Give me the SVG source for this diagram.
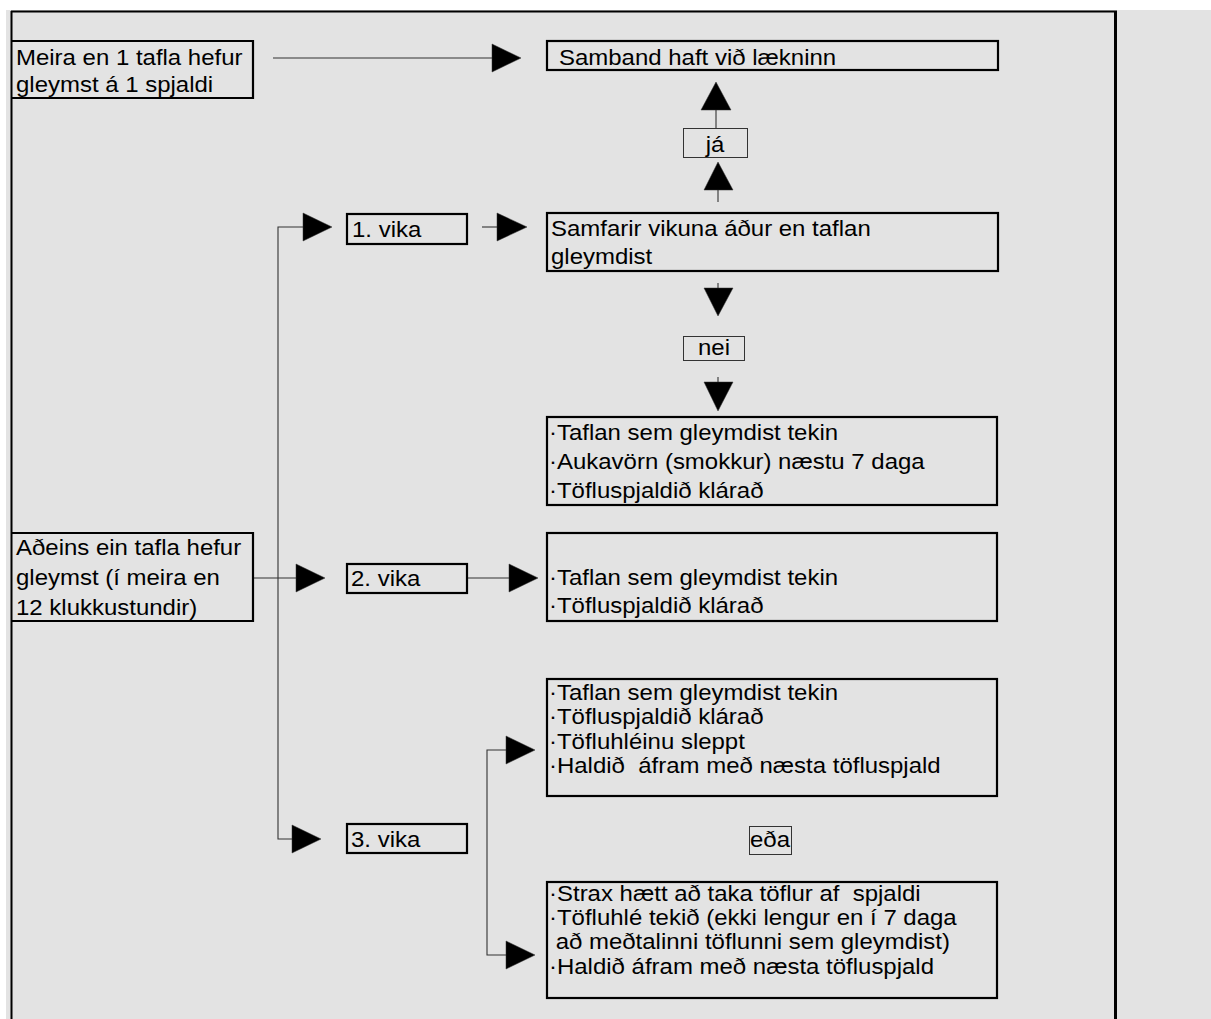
<svg xmlns="http://www.w3.org/2000/svg" width="1211" height="1019" viewBox="0 0 1211 1019">
<style>
.t{font-family:"Liberation Sans",Arial,sans-serif;font-size:22px;fill:#000;white-space:pre}
.box{fill:none;stroke:#000;stroke-width:2.2}
.lbl{fill:none;stroke:#333;stroke-width:1}
.ln{fill:none;stroke:#333;stroke-width:1.1}
.ah{fill:#000;stroke:#333;stroke-width:0.5}
</style>
<rect x="0" y="0" width="1211" height="1019" fill="#fff"/>
<rect x="6" y="10" width="1205" height="1009" fill="#e3e3e3"/>
<g id="frame">
<line x1="11" y1="11.5" x2="1117" y2="11.5" stroke="#000" stroke-width="2"/>
<line x1="11.5" y1="11" x2="11.5" y2="1019" stroke="#000" stroke-width="2"/>
<line x1="1115.5" y1="11" x2="1115.5" y2="1019" stroke="#000" stroke-width="3"/>
</g>
<g id="connectors">
<line class="ln" x1="273" y1="58" x2="493" y2="58"/>
<polygon class="ah" points="492,44 521,58 492,72"/>
<line class="ln" x1="716" y1="110" x2="716" y2="128"/>
<polygon class="ah" points="701,110 716,82 731,110"/>
<line class="ln" x1="718" y1="190" x2="718" y2="202"/>
<polygon class="ah" points="704,190 718,162 733,190"/>
<line class="ln" x1="718" y1="283" x2="718" y2="289"/>
<polygon class="ah" points="704,288 733,288 718,316"/>
<line class="ln" x1="718" y1="377" x2="718" y2="383"/>
<polygon class="ah" points="704,382 733,382 718,411"/>
<polyline class="ln" points="304,227 278,227 278,839 293,839"/>
<polygon class="ah" points="303,213 332,227 303,241"/>
<line class="ln" x1="482" y1="227" x2="498" y2="227"/>
<polygon class="ah" points="497,213 527,227 497,241"/>
<line class="ln" x1="253" y1="578" x2="297" y2="578"/>
<polygon class="ah" points="296,564 325,578 296,592"/>
<line class="ln" x1="467" y1="578" x2="510" y2="578"/>
<polygon class="ah" points="509,564 538,578 509,592"/>
<polygon class="ah" points="292,825 321,839 292,853"/>
<polyline class="ln" points="507,750 487,750 487,955 507,955"/>
<polygon class="ah" points="506,736 535,750 506,764"/>
<polygon class="ah" points="506,941 535,955 506,969"/>
</g>
<g id="n-meira">
<polyline class="box" points="12,41 253,41 253,98 12,98"/>
<text class="t" transform="translate(16,65) scale(1.09,1)">Meira en 1 tafla hefur</text>
<text class="t" transform="translate(16,92) scale(1.09,1)">gleymst á 1 spjaldi</text>
</g>
<g id="n-samband">
<rect class="box" x="547" y="41" width="451" height="29"/>
<text class="t" transform="translate(559,65) scale(1.09,1)">Samband haft við lækninn</text>
</g>
<g id="n-ja">
<rect class="lbl" x="683.5" y="128.5" width="64" height="29"/>
<text class="t" text-anchor="middle" transform="translate(715,152) scale(1.09,1)">já</text>
</g>
<g id="n-samfarir">
<rect class="box" x="547" y="213" width="451" height="58"/>
<text class="t" transform="translate(551,236) scale(1.09,1)">Samfarir vikuna áður en taflan</text>
<text class="t" transform="translate(551,264) scale(1.09,1)">gleymdist</text>
</g>
<g id="n-vika1">
<rect class="box" x="347" y="214" width="120" height="30"/>
<text class="t" transform="translate(352,237) scale(1.09,1)">1. vika</text>
</g>
<g id="n-nei">
<rect class="lbl" x="683.5" y="336.5" width="61" height="24"/>
<text class="t" text-anchor="middle" transform="translate(714,355) scale(1.09,1)">nei</text>
</g>
<g id="n-vika1-result">
<rect class="box" x="547" y="417" width="450" height="88"/>
<text class="t" transform="translate(549,440) scale(1.09,1)">·Taflan sem gleymdist tekin</text>
<text class="t" transform="translate(549,469) scale(1.09,1)">·Aukavörn (smokkur) næstu 7 daga</text>
<text class="t" transform="translate(549,498) scale(1.09,1)">·Töfluspjaldið klárað</text>
</g>
<g id="n-adeins">
<polyline class="box" points="12,533 253,533 253,621 12,621"/>
<text class="t" transform="translate(16,555) scale(1.09,1)">Aðeins ein tafla hefur</text>
<text class="t" transform="translate(16,585) scale(1.09,1)">gleymst (í meira en</text>
<text class="t" transform="translate(16,615) scale(1.09,1)">12 klukkustundir)</text>
</g>
<g id="n-vika2">
<rect class="box" x="347" y="564" width="120" height="29"/>
<text class="t" transform="translate(351,586) scale(1.09,1)">2. vika</text>
</g>
<g id="n-vika2-result">
<rect class="box" x="547" y="533" width="450" height="88"/>
<text class="t" transform="translate(549,585) scale(1.09,1)">·Taflan sem gleymdist tekin</text>
<text class="t" transform="translate(549,613) scale(1.09,1)">·Töfluspjaldið klárað</text>
</g>
<g id="n-vika3">
<rect class="box" x="347" y="824" width="120" height="29"/>
<text class="t" transform="translate(351,847) scale(1.09,1)">3. vika</text>
</g>
<g id="n-vika3-a">
<rect class="box" x="547" y="679" width="450" height="117"/>
<text class="t" transform="translate(549,700) scale(1.09,1)">·Taflan sem gleymdist tekin</text>
<text class="t" transform="translate(549,724) scale(1.09,1)">·Töfluspjaldið klárað</text>
<text class="t" transform="translate(549,749) scale(1.09,1)">·Töfluhléinu sleppt</text>
<text class="t" transform="translate(549,773) scale(1.09,1)">·Haldið  áfram með næsta töfluspjald</text>
</g>
<g id="n-eda">
<rect class="lbl" x="749.5" y="826.5" width="42" height="28"/>
<text class="t" text-anchor="middle" transform="translate(770,847) scale(1.09,1)">eða</text>
</g>
<g id="n-vika3-b">
<rect class="box" x="547" y="882" width="450" height="116"/>
<text class="t" transform="translate(549,901) scale(1.09,1)">·Strax hætt að taka töflur af  spjaldi</text>
<text class="t" transform="translate(549,925) scale(1.09,1)">·Töfluhlé tekið (ekki lengur en í 7 daga</text>
<text class="t" transform="translate(549,949) scale(1.09,1)"> að meðtalinni töflunni sem gleymdist)</text>
<text class="t" transform="translate(549,974) scale(1.09,1)">·Haldið áfram með næsta töfluspjald</text>
</g>
</svg>
